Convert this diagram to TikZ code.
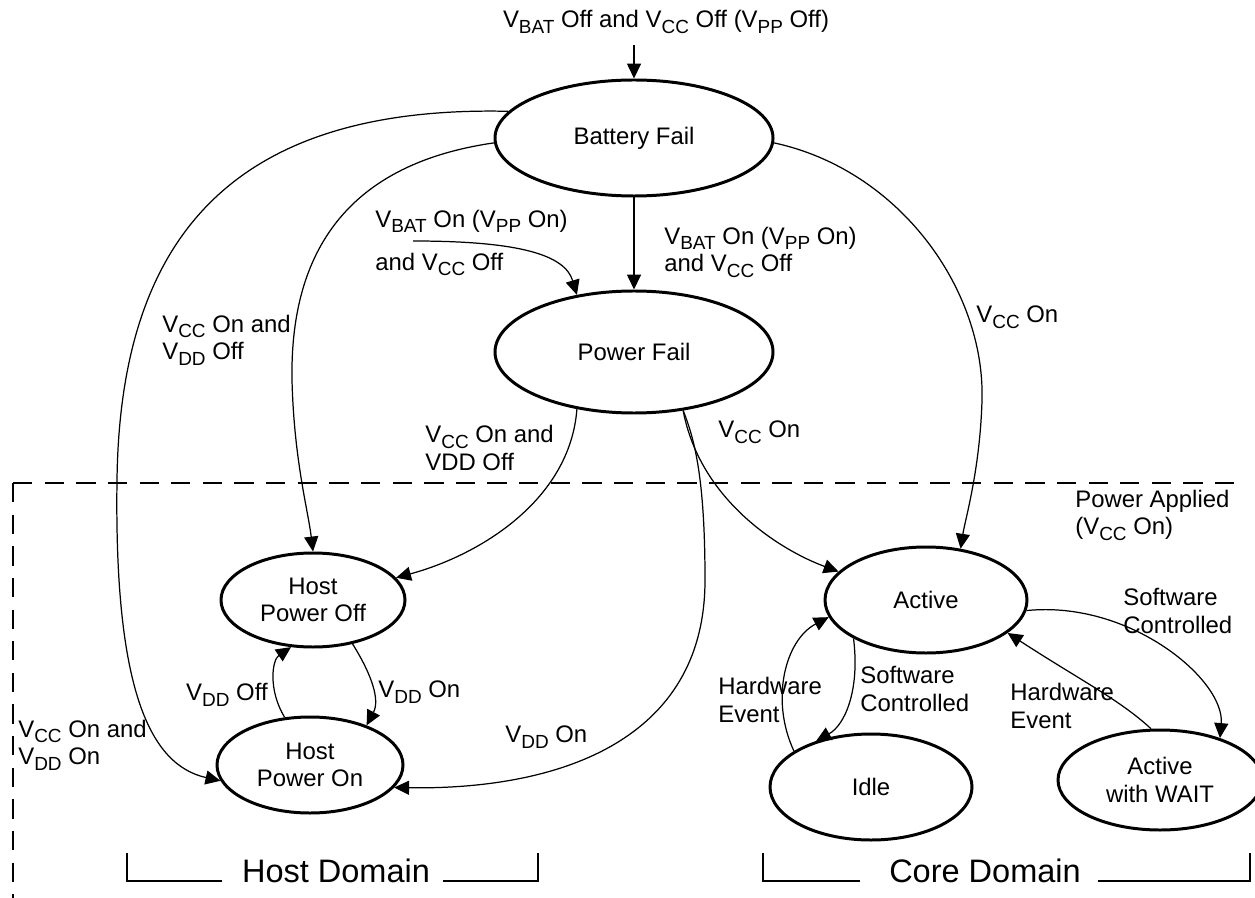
\documentclass[tikz,border=0pt]{standalone}
\usepackage{fontspec}
\setmainfont{Liberation Sans}
\usetikzlibrary{shapes.geometric,arrows.meta}
\newcommand{\lowidx}[1]{\raisebox{-0.45ex}{\fontsize{10.8}{12}\selectfont #1}}

\begin{document}
\begin{tikzpicture}[x=0.2mm, y=-0.2mm,
    font=\fontsize{13.6}{15.5}\selectfont,
    state/.style={ellipse, draw, line width=1.7pt, align=center, inner sep=0pt},
    trans/.style={-{Triangle[length=8.5pt,width=8pt]}, line width=0.7pt},
    lbl/.style={anchor=west, align=left, inner sep=0pt},
    bracket/.style={line width=1.3pt},
    domtext/.style={font=\fontsize{18.5}{21}\selectfont, anchor=base, inner sep=0pt}]

    \useasboundingbox (0,0) rectangle (1255,898);

    % power applied region
    \draw[dash pattern=on 11pt off 7pt, line width=0.8pt] (13,483) -- (1240,483);
    \draw[dash pattern=on 11pt off 7pt, line width=0.8pt] (13,483) -- (13,898);
    \node[lbl] (applied) at (1075,515) {Power Applied\\(V\lowidx{CC} On)};

    % states
    \node[state, minimum width=5.56cm, minimum height=2.32cm] (bf) at (634,138) {Battery Fail};
    \node[state, minimum width=5.56cm, minimum height=2.44cm] (pf) at (634,352) {Power Fail};
    \node[state, minimum width=3.68cm, minimum height=1.88cm] (hpoff) at (313,600) {Host\\Power Off};
    \node[state, minimum width=3.72cm, minimum height=1.92cm] (hpon) at (310,765) {Host\\Power On};
    \node[state, minimum width=4.04cm, minimum height=2.12cm] (active) at (926,600) {Active};
    \node[state, minimum width=4.04cm, minimum height=2.12cm] (idle) at (871,787) {Idle};
    \node[state, minimum width=4.08cm, minimum height=2.0cm] (aww) at (1160,780) {Active\\with WAIT};

    % entry
    \node[inner sep=0pt] (reset) at (666,22) {V\lowidx{BAT} Off and V\lowidx{CC} Off (V\lowidx{PP} Off)};
    \coordinate (entry) at (634,45);
    \draw[trans] (entry) -- (bf.north);

    % battery fail
    \draw[trans] (bf.south) -- (pf.north);
    \node[lbl] (l1) at (664,252) {V\lowidx{BAT} On (V\lowidx{PP} On)\\and V\lowidx{CC} Off};
    \node[lbl, align=left] (l2) at (375,243) {V\lowidx{BAT} On (V\lowidx{PP} On)\\[9pt]and V\lowidx{CC} Off};
    \coordinate (bend) at (413,241);
    \draw[trans] (bend) .. controls (520,241) and (565,255) .. (pf.135);

    \draw[trans] (bf.168) .. controls (230,105) and (120,240) .. (117,480)
        .. controls (114,690) and (150,765) .. (hpon.190);
    \node[lbl] (l3) at (18,745) {V\lowidx{CC} On and\\V\lowidx{DD} On};

    \draw[trans] (bf.182) .. controls (340,165) and (290,260) .. (292,380)
        .. controls (294,460) and (308,510) .. (hpoff.north);
    \node[lbl] (l4) at (162,340) {V\lowidx{CC} On and\\V\lowidx{DD} Off};

    \draw[trans] (bf.358) .. controls (900,170) and (985,290) .. (982,400)
        .. controls (980,470) and (965,520) .. (active.56);
    \node[lbl] (l5) at (976,317) {V\lowidx{CC} On};

    % power fail
    \draw[trans] (pf.225) .. controls (570,500) and (480,555) .. (hpoff.15);
    \node[lbl] (l6) at (425,448) {V\lowidx{CC} On and\\VDD Off};

    \draw[trans] (pf.310) .. controls (700,500) and (780,550) .. (active.162);
    \node[lbl] (l7) at (718,432) {V\lowidx{CC} On};

    \draw[trans] (pf.310) .. controls (695,440) and (705,480) .. (705,580)
        .. controls (705,740) and (560,790) .. (hpon.345);
    \node[lbl] (l8) at (505,737) {V\lowidx{DD} On};

    % host domain
    \draw[trans] (hpon.118) .. controls (268,690) and (272,660) .. (hpoff.245);
    \node[lbl, anchor=east] (l9) at (268,695) {V\lowidx{DD} Off};
    \draw[trans] (hpoff.312) .. controls (372,675) and (380,700) .. (hpon.35);
    \node[lbl] (l10) at (378,692) {V\lowidx{DD} On};

    % core domain
    \draw[trans] (active.208) .. controls (860,690) and (845,725) .. (idle.140);
    \node[lbl] (l11) at (860,689) {Software\\Controlled};
    \draw[trans] (idle.155) .. controls (770,700) and (785,640) .. (active.190);
    \node[lbl] (l12) at (718,700) {Hardware\\Event};
    \draw[trans] (active.354) .. controls (1130,600) and (1225,680) .. (aww.35);
    \node[lbl] (l13) at (1123,611) {Software\\Controlled};
    \draw[trans] (aww.100) .. controls (1120,700) and (1080,680) .. (active.338);
    \node[lbl] (l14) at (1010,706) {Hardware\\Event};

    % domains
    \node[domtext] (hostdom) at (336,882) {Host Domain};
    \draw[bracket] (127,853) |- (222,881);
    \draw[bracket] (443,881) -| (538,853);
    \node[domtext] (coredom) at (985,882) {Core Domain};
    \draw[bracket] (763,853) |- (860,881);
    \draw[bracket] (1098,881) -| (1250,853);

\end{tikzpicture}
\end{document}
